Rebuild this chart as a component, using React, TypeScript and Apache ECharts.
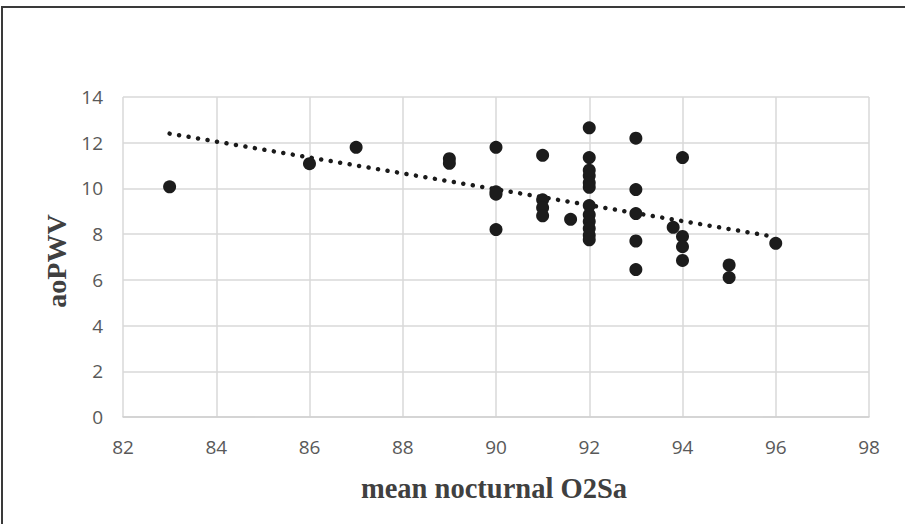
import React, { useEffect, useRef } from "react";
import * as echarts from "echarts";

const xValues: number[] = [
  83, 86, 87, 89, 89,
  90, 90, 90, 90,
  91, 91, 91, 91,
  91.6,
  92, 92, 92, 92, 92, 92, 92, 92, 92, 92, 92, 92,
  93, 93, 93, 93, 93,
  93.8,
  94, 94, 94, 94,
  95, 95,
  96,
];
const yValues: number[] = [
  10.07, 11.08, 11.8, 11.3, 11.1,
  11.8, 9.85, 9.75, 8.2,
  11.45, 9.5, 9.15, 8.8,
  8.65,
  12.65, 11.35, 10.8, 10.55, 10.25, 10.05, 9.25, 8.85, 8.55, 8.25, 7.95, 7.75,
  12.2, 9.95, 8.9, 7.7, 6.45,
  8.3,
  11.35, 7.9, 7.45, 6.85,
  6.65, 6.1,
  7.6,
];
const xTicks = { min: 82, max: 98, interval: 2 };
const yTicks = { min: 0, max: 14, interval: 2 };
const xTitle = "mean nocturnal O2Sa";
const yTitle = "aoPWV";

function regression(xs: number[], ys: number[]) {
  const n = xs.length;
  const mx = xs.reduce((a, b) => a + b, 0) / n;
  const my = ys.reduce((a, b) => a + b, 0) / n;
  let sxy = 0;
  let sxx = 0;
  for (let i = 0; i < n; i++) {
    sxy += (xs[i] - mx) * (ys[i] - my);
    sxx += (xs[i] - mx) * (xs[i] - mx);
  }
  const slope = sxy / sxx;
  return { slope, intercept: my - slope * mx };
}

export default function App() {
  const ref = useRef<HTMLDivElement>(null);
  useEffect(() => {
    if (!ref.current) return;
    const chart = echarts.init(ref.current, null, { renderer: "svg" });
    const points = xValues.map((x, i) => [x, yValues[i]]);
    const { slope, intercept } = regression(xValues, yValues);
    const x0 = Math.min(...xValues);
    const x1 = Math.max(...xValues);
    const trend = [
      [x0, intercept + slope * x0],
      [x1, intercept + slope * x1],
    ];
    const tickLabel = {
      color: "#595959",
      fontFamily: "Open Sans",
      fontSize: 19,
    };
    const split = { show: true, lineStyle: { color: "#d9d9d9", width: 1.5 } };
    chart.setOption({
      animation: false,
      backgroundColor: "#ffffff",
      grid: { left: 123, right: 36, top: 97, bottom: 107 },
      xAxis: {
        type: "value",
        min: xTicks.min,
        max: xTicks.max,
        interval: xTicks.interval,
        axisLine: { show: true, lineStyle: { color: "#d0d0d0", width: 1.5 } },
        axisTick: { show: false },
        splitLine: split,
        axisLabel: { ...tickLabel, margin: 20 },
      },
      yAxis: {
        type: "value",
        min: yTicks.min,
        max: yTicks.max,
        interval: yTicks.interval,
        axisLine: { show: false },
        axisTick: { show: false },
        splitLine: split,
        axisLabel: { ...tickLabel, margin: 20 },
      },
      graphic: [
        {
          type: "rect",
          shape: { x: 2, y: 7, width: 940, height: 560 },
          style: { fill: "transparent", stroke: "#3a3a3a", lineWidth: 2 },
          silent: true,
        },
        {
          type: "text",
          x: 494,
          y: 488,
          style: {
            text: xTitle,
            fontFamily: "Liberation Serif",
            fontWeight: "bold",
            fontSize: 28.5,
            fill: "#404040",
            textAlign: "center",
            textVerticalAlign: "middle",
          },
        },
        {
          type: "text",
          x: 56,
          y: 261,
          rotation: Math.PI / 2,
          style: {
            text: yTitle,
            fontFamily: "Liberation Serif",
            fontWeight: "bold",
            fontSize: 28,
            fill: "#404040",
            textAlign: "center",
            textVerticalAlign: "middle",
          },
        },
      ],
      series: [
        {
          type: "line",
          data: trend,
          showSymbol: false,
          symbol: "none",
          lineStyle: {
            color: "#1a1a1a",
            width: 4.5,
            type: [0.01, 9.6],
            cap: "round",
          },
          z: 3,
        },
        {
          type: "scatter",
          data: points,
          symbolSize: 13,
          itemStyle: { color: "#1c1c1c", opacity: 1 },
          z: 4,
        },
      ],
    });
    return () => chart.dispose();
  }, []);
  return (
    <div
      ref={ref}
      style={{ position: "absolute", left: 0, top: 0, width: 905, height: 524 }}
    />
  );
}
